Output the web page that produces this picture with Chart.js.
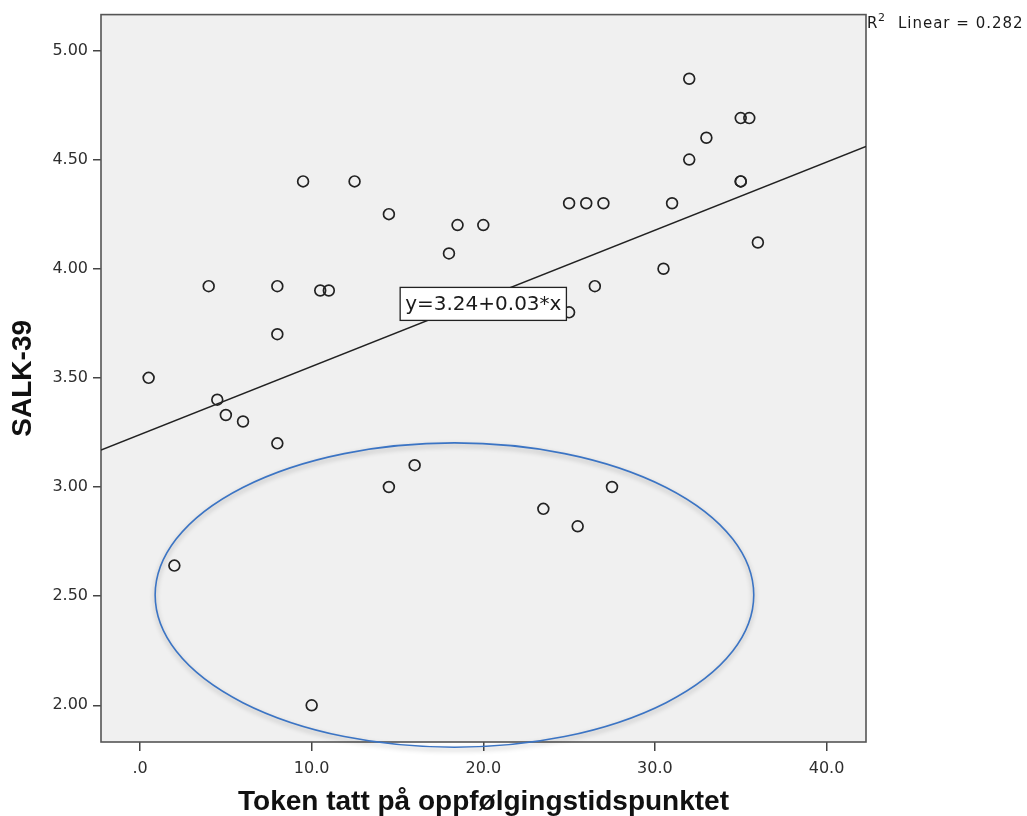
<!DOCTYPE html>
<html>
<head>
<meta charset="utf-8">
<script src="https://cdn.jsdelivr.net/npm/chart.js@4"></script>
<style>
  html, body { margin: 0; padding: 0; background: #ffffff; }
  #wrap { width: 1027px; height: 816px; }
</style>
</head>
<body>
<div id="wrap"><canvas id="chart" width="1027" height="816"></canvas></div>
<script>
// Token tatt på oppfølgingstidspunktet (x) vs SALK-39 score (y), one entry per respondent
const tokenValues = [0.5, 2, 4, 4.5, 5, 6, 8, 8, 8, 9.5, 10, 10.5, 11, 12.5, 14.5, 14.5, 16, 18, 18.5, 20,
                     23.5, 25, 25, 25.5, 26, 26.5, 27, 27.5, 30.5, 31, 32, 32, 33, 35, 35, 35, 35.5, 36];
const salkValues  = [3.50, 2.64, 3.92, 3.40, 3.33, 3.30, 3.92, 3.70, 3.20, 4.40, 2.00, 3.90, 3.90, 4.40, 4.25, 3.00, 3.10, 4.07, 4.20, 4.20,
                     2.90, 4.30, 3.80, 2.82, 4.30, 3.92, 4.30, 3.00, 4.00, 4.30, 4.50, 4.87, 4.60, 4.40, 4.40, 4.69, 4.69, 4.12];

// Linear fit: intercept, slope, R squared
const fitIntercept = 3.24;
const fitSlope = 0.0312;
const fitRSquared = 0.282;

// Axis ticks and their labels
const xTicks = [0, 10, 20, 30, 40];
const xTickLabels = ['.0', '10.0', '20.0', '30.0', '40.0'];
const yTicks = [2.0, 2.5, 3.0, 3.5, 4.0, 4.5, 5.0];
const yTickLabels = ['2.00', '2.50', '3.00', '3.50', '4.00', '4.50', '5.00'];

// Highlighted group of low scorers (ellipse bounds in data units)
const groupBounds = [0.88, 35.76, 1.808, 3.202]; // xMin, xMax, yMin, yMax

const X_MIN = -2.275, X_MAX = 42.3;
const Y_MIN = 1.832, Y_MAX = 5.164;

const points = tokenValues.map((x, i) => ({ x: x, y: salkValues[i] }));
const fitLine = [X_MIN, X_MAX].map(x => ({ x: x, y: fitIntercept + fitSlope * x }));

const TICK_FONT = { family: 'DejaVu Sans', size: 16 };
const TITLE_FONT = { family: 'Liberation Sans', size: 28, weight: 'bold', lineHeight: 1 };

// Plot panel: grey fill and frame
const panelPlugin = {
  id: 'panel',
  beforeDraw(chart) {
    const { ctx, chartArea: a } = chart;
    ctx.save();
    ctx.fillStyle = '#f0f0f0';
    ctx.fillRect(a.left, a.top, a.right - a.left, a.bottom - a.top);
    ctx.restore();
  },
  beforeDatasetsDraw(chart) {
    const { ctx, chartArea: a } = chart;
    ctx.save();
    ctx.strokeStyle = '#555555';
    ctx.lineWidth = 1.6;
    ctx.strokeRect(a.left, a.top, a.right - a.left, a.bottom - a.top);
    ctx.restore();
  }
};

// Fit equation box, R squared note and the group ellipse
const fitLabelPlugin = {
  id: 'fitLabel',
  afterDatasetsDraw(chart) {
    const { ctx, chartArea: a, scales } = chart;
    const text = 'y=' + fitIntercept.toFixed(2) + '+' + fitSlope.toFixed(2) + '*x';
    const cx = scales.x.getPixelForValue(20);
    const cy = scales.y.getPixelForValue(fitIntercept + fitSlope * 20) + 5.5;
    ctx.save();
    ctx.font = '20px "DejaVu Sans"';
    const w = ctx.measureText(text).width + 10;
    const h = 33;
    ctx.fillStyle = '#ffffff';
    ctx.fillRect(cx - w / 2, cy - h / 2, w, h);
    ctx.strokeStyle = '#222222';
    ctx.lineWidth = 1.3;
    ctx.strokeRect(cx - w / 2, cy - h / 2, w, h);
    ctx.fillStyle = '#1a1a1a';
    ctx.textAlign = 'center';
    ctx.textBaseline = 'middle';
    ctx.fillText(text, cx, cy + 1);

    // R squared note to the right of the panel
    let x = a.right + 1;
    const base = 28;
    ctx.textAlign = 'left';
    ctx.textBaseline = 'alphabetic';
    ctx.font = '15px "DejaVu Sans"';
    ctx.fillText('R', x, base);
    x += ctx.measureText('R').width + 0.5;
    ctx.font = '11px "DejaVu Sans"';
    ctx.fillText('2', x, base - 7);
    x += ctx.measureText('2').width + 13;
    ctx.font = '15px "DejaVu Sans"';
    ctx.letterSpacing = '1px';
    ctx.fillText('Linear = ' + fitRSquared.toFixed(3), x, base);
    ctx.restore();
  },
  afterDraw(chart) {
    const { ctx, scales } = chart;
    const [x0, x1, y0, y1] = groupBounds;
    const left = scales.x.getPixelForValue(x0), right = scales.x.getPixelForValue(x1);
    const top = scales.y.getPixelForValue(y1), bottom = scales.y.getPixelForValue(y0);
    ctx.save();
    ctx.beginPath();
    ctx.ellipse((left + right) / 2, (top + bottom) / 2, (right - left) / 2, (bottom - top) / 2, 0, 0, Math.PI * 2);
    ctx.shadowColor = 'rgba(0,0,0,0.3)';
    ctx.shadowBlur = 5;
    ctx.shadowOffsetY = 2.5;
    ctx.strokeStyle = '#3b74c4';
    ctx.lineWidth = 1.6;
    ctx.stroke();
    ctx.restore();
  }
};

new Chart(document.getElementById('chart'), {
  data: {
    datasets: [
      {
        type: 'line',
        data: fitLine,
        borderColor: '#222222',
        borderWidth: 1.4,
        pointRadius: 0,
        fill: false,
        order: 2
      },
      {
        type: 'scatter',
        data: points,
        pointStyle: 'circle',
        pointRadius: 5.4,
        pointBorderWidth: 1.7,
        borderColor: '#222222',
        backgroundColor: 'rgba(0,0,0,0)',
        order: 1
      }
    ]
  },
  options: {
    responsive: false,
    animation: false,
    layout: { padding: { left: 0, top: 13, right: 161, bottom: 0 } },
    plugins: { legend: { display: false }, tooltip: { enabled: false } },
    scales: {
      x: {
        type: 'linear',
        position: 'bottom',
        min: X_MIN,
        max: X_MAX,
        afterBuildTicks(scale) { scale.ticks = xTicks.map(v => ({ value: v })); },
        afterFit(scale) { scale.height = 74; },
        border: { display: false },
        grid: { drawOnChartArea: false, drawTicks: true, tickLength: 9, color: '#444444', lineWidth: 1.5 },
        ticks: {
          autoSkip: false,
          maxRotation: 0,
          padding: 8,
          color: '#2e2e2e',
          font: TICK_FONT,
          callback: (v, i) => xTickLabels[i]
        },
        title: {
          display: true,
          text: 'Token tatt på oppfølgingstidspunktet',
          color: '#111111',
          font: TITLE_FONT,
          padding: { top: 0, bottom: 0 }
        }
      },
      y: {
        type: 'linear',
        position: 'left',
        min: Y_MIN,
        max: Y_MAX,
        afterBuildTicks(scale) { scale.ticks = yTicks.map(v => ({ value: v })); },
        afterFit(scale) { scale.width = 101; },
        border: { display: false },
        grid: { drawOnChartArea: false, drawTicks: true, tickLength: 8, color: '#444444', lineWidth: 1.5 },
        ticks: {
          autoSkip: false,
          padding: 5,
          color: '#2e2e2e',
          font: TICK_FONT,
          callback: (v, i) => yTickLabels[i]
        },
        title: {
          display: true,
          text: 'SALK-39',
          color: '#111111',
          font: TITLE_FONT,
          padding: { top: 9, bottom: 0 }
        }
      }
    }
  },
  plugins: [panelPlugin, fitLabelPlugin]
});
</script>
</body>
</html>
